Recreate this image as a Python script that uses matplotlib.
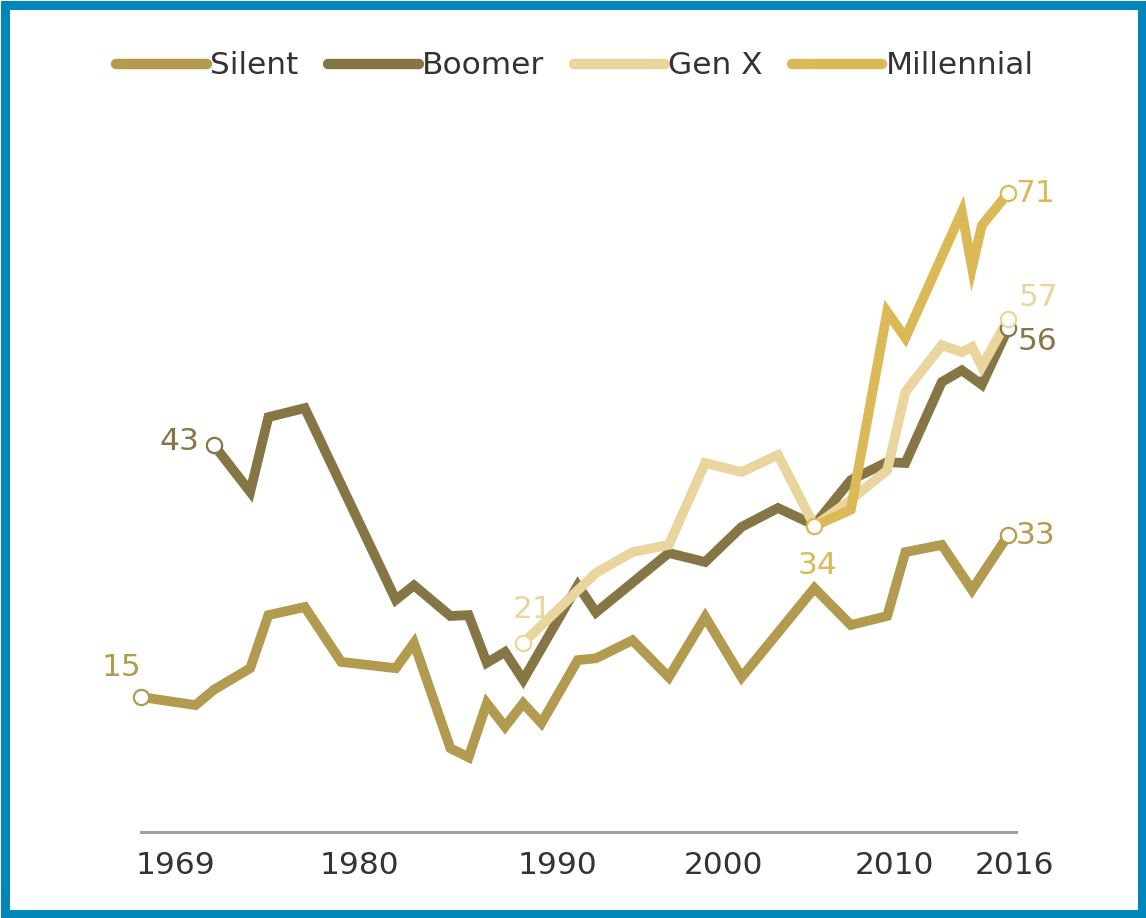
import matplotlib.pyplot as plt
from matplotlib.patches import Rectangle

# survey dates (fractional years) and % in favour
silent_years = [1969, 1972, 1973, 1975, 1976, 1978, 1980, 1983, 1984, 1986, 1987, 1988, 1989,
                1990, 1991, 1993, 1994, 1996, 1998, 2000, 2002, 2006, 2008, 2010, 2011, 2013,
                2014.66, 2016.65]
silent = [15, 14.1, 15.8, 18.2, 24.1, 25, 18.9, 18.2, 21, 9.3, 8.3, 14.3, 11.7,
          14.3, 12.1, 19.1, 19.3, 21.3, 17.2, 23.9, 17.2, 27.1, 23, 24, 31.1, 31.9,
          26.9, 33]

boomer_years = [1973, 1975, 1976, 1978, 1983, 1984, 1986, 1987, 1988, 1989, 1990, 1993, 1994,
                1998, 2000, 2002, 2004, 2006, 2008, 2010, 2011, 2013, 2014.1, 2015.2, 2016.65]
boomer = [43, 37.8, 46.1, 47.1, 25.8, 27.4, 24, 24.1, 18.8, 20, 16.9, 27.4, 24.4,
          31, 30, 33.9, 36, 34.1, 39.1, 41.1, 41, 50, 51.3, 49.7, 56]

genx_years = [1990, 1994, 1996, 1998, 2000, 2002, 2004, 2006, 2008, 2010, 2011, 2013,
              2014.1, 2014.66, 2015.2, 2016.65]
genx = [21, 28.8, 31.1, 31.9, 41, 40, 41.9, 34, 36.9, 40.2, 48.9, 54.1,
        53.3, 53.9, 51.7, 57]

mill_years = [2006, 2008, 2010, 2011, 2014.1, 2014.66, 2015.2, 2016.65]
mill = [34, 35.8, 57.8, 54.9, 68.9, 62.7, 67.4, 71]

tick_labels = ['1969', '1980', '1990', '2000', '2010', '2016']
tick_pos = [1970.9, 1981.0, 1991.9, 2001.0, 2010.4, 2017.0]

c_silent = '#b29a4f'
c_boomer = '#877645'
c_genx = '#e9d59d'
c_mill = '#dbb957'

plt.rcParams['font.family'] = ['DejaVu Sans']
fs = 22.5

fig = plt.figure(figsize=(11.46, 9.18), dpi=100)
W, H = 1146, 918
# axes placed so 1967..2019 and 0..80 land where the reference draws them
ax = fig.add_axes([104.6 / W, (H - 832) / H, 946.4 / W, 720 / H])
ax.set_xlim(1967, 2019)
ax.set_ylim(0, 80)

series = [
    ('Silent', silent_years, silent, c_silent),
    ('Boomer', boomer_years, boomer, c_boomer),
    ('Gen X', genx_years, genx, c_genx),
    ('Millennial', mill_years, mill, c_mill),
]

handles = []
for i, (name, xs, ys, col) in enumerate(series):
    ln, = ax.plot(xs, ys, color=col, lw=7, solid_joinstyle='miter',
                  solid_capstyle='butt', zorder=2 + i, label=name)
    handles.append(ln)
    ax.plot([xs[0], xs[-1]], [ys[0], ys[-1]], ls='none', marker='o', ms=11,
            mfc='white', mec=col, mew=1.6, zorder=10)

# value labels at start / end points
def lab(x, y, txt, col, dx, dy, ha='center'):
    ax.annotate(txt, (x, y), xytext=(dx, dy), textcoords='offset pixels',
                ha=ha, va='center', color=col, fontsize=fs, zorder=11)

lab(silent_years[0], silent[0], '15', c_silent, -20, 30)
lab(boomer_years[0], boomer[0], '43', c_boomer, -14, 3, ha='right')
lab(genx_years[0], genx[0], '21', c_genx, 9, 33)
lab(mill_years[0], mill[0], '34', c_mill, 3, -39)
lab(mill_years[-1], mill[-1], '71', c_mill, 7, 0, ha='left')
lab(genx_years[-1], genx[-1], '57', c_genx, 10, 21, ha='left')
lab(boomer_years[-1], boomer[-1], '56', c_boomer, 9, -13, ha='left')
lab(silent_years[-1], silent[-1], '33', c_silent, 7, -1, ha='left')

# axis styling
for s in ['top', 'right', 'left']:
    ax.spines[s].set_visible(False)
ax.spines['bottom'].set_color('#a0a0a0')
ax.spines['bottom'].set_linewidth(2.2)
ax.spines['bottom'].set_bounds(1969, 2017.1)
ax.set_yticks([])
ax.set_xticks(tick_pos)
ax.set_xticklabels(tick_labels)
ax.tick_params(axis='x', length=0, pad=14, labelsize=fs, labelcolor='#333333')

leg = fig.legend(handles=handles, loc='center', bbox_to_anchor=(575 / W, 1 - 66 / H),
                 ncol=4, frameon=False, fontsize=fs, handlelength=2.9,
                 handletextpad=0.1, columnspacing=0.95, borderpad=0)
for t in leg.get_texts():
    t.set_color('#333333')
for h in leg.legend_handles:
    h.set_linewidth(7.5)
    h.set_solid_capstyle('round')

# blue frame around the graphic
fig.add_artist(Rectangle((4.5 / W, 4.5 / H), (W - 9) / W, (H - 9) / H,
                         transform=fig.transFigure, fill=False,
                         edgecolor='#0086b8', linewidth=9 * 0.72, zorder=20))

fig.savefig('out.png', dpi=100)
